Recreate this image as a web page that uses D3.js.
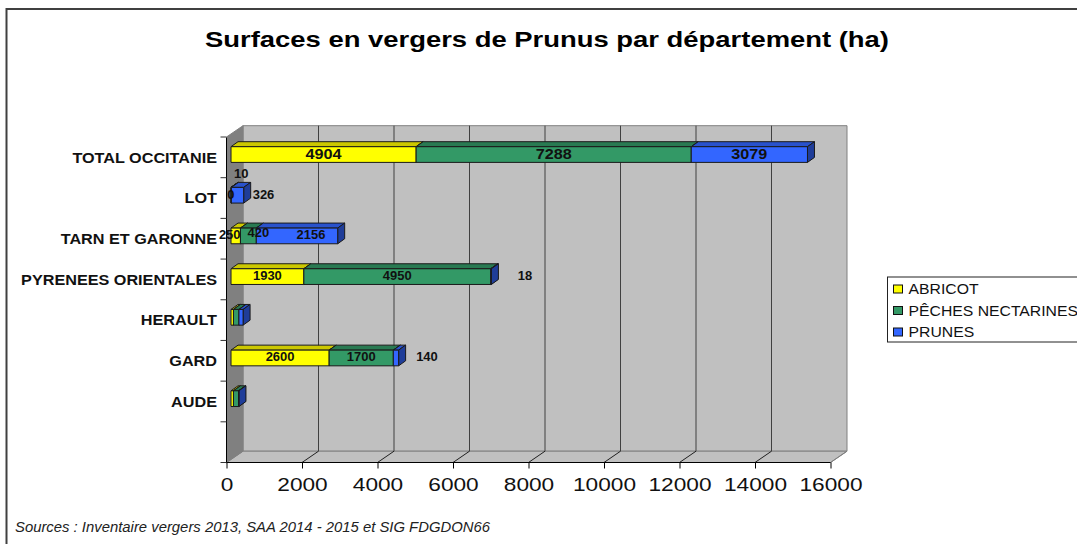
<!DOCTYPE html>
<html>
<head>
<meta charset="utf-8">
<script src="https://cdn.jsdelivr.net/npm/d3@7"></script>
<style>
  html, body { margin: 0; padding: 0; background: #fff; }
  svg { display: block; font-family: "Liberation Sans", Arial, sans-serif; }
</style>
</head>
<body>
<div id="chart"></div>
<script>
// Data
const categories = ["TOTAL OCCITANIE", "LOT", "TARN ET GARONNE", "PYRENEES ORIENTALES", "HERAULT", "GARD", "AUDE", " "];
const abricot = [4904, 0, 250, 1930, 65, 2600, 65];
const peches = [7288, 10, 420, 4950, 145, 1700, 135];
const prunes = [3079, 326, 2156, 18, 110, 140, 10];
const seriesNames = ["ABRICOT", "PÊCHES NECTARINES", "PRUNES"];
const xTicks = [0, 2000, 4000, 6000, 8000, 10000, 12000, 14000, 16000];
const title = "Surfaces en vergers de Prunus par département (ha)";
const source = "Sources : Inventaire vergers 2013, SAA 2014 - 2015 et SIG FDGDON66";

// Bars with no printed value
const noLabel = ["HERAULT", "AUDE"];

// Colours per series
const colors = {
  ABRICOT: { front: "#ffff00", top: "#ccc800", side: "#999600" },
  "PÊCHES NECTARINES": { front: "#339966", top: "#297a52", side: "#1f5c3d" },
  PRUNES: { front: "#3366ff", top: "#2952cc", side: "#1f3d99" },
};

// Labels moved away from their segment, as in the original
const nudges = {
  "LOT|PÊCHES NECTARINES": [10, -21],
  "LOT|PRUNES": [26, 0],
  "TARN ET GARONNE|ABRICOT": [-6, 0],
  "TARN ET GARONNE|PÊCHES NECTARINES": [10, -2],
  "TARN ET GARONNE|PRUNES": [14, 0],
  "PYRENEES ORIENTALES|PRUNES": [34, 0],
  "GARD|PRUNES": [31, 0],
};

// Dimensions
const dimensions = {
  width: 1077,
  height: 544,
  plot: { left: 226.5, right: 830.5, top: 137, bottom: 462.5 },
  wall: { dx: 16.5, dy: -11.3 },
  bar: { inset: 4.5, offset: 9.7, height: 15.7, dx: 7, dy: -5 },
};
const { plot, wall, bar } = dimensions;

// The original text is wider than Liberation Sans at the same height
function stretch(selection, factor) {
  selection.each(function () {
    const length = this.getComputedTextLength();
    d3.select(this)
      .attr("textLength", length * factor)
      .attr("lengthAdjust", "spacingAndGlyphs");
  });
}

const svg = d3
  .select("#chart")
  .append("svg")
  .attr("width", dimensions.width)
  .attr("height", dimensions.height);

// Frame, only top and left are visible
svg.append("path")
  .attr("d", "M6.5,544V9H1077")
  .attr("fill", "none")
  .attr("stroke", "#404040")
  .attr("stroke-width", 2);

svg.append("text")
  .attr("x", 547)
  .attr("y", 47)
  .attr("text-anchor", "middle")
  .attr("font-size", 22)
  .attr("font-weight", "bold")
  .attr("fill", "#000")
  .attr("textLength", 684)
  .attr("lengthAdjust", "spacingAndGlyphs")
  .text(title);

// Scales
const xScale = d3.scaleLinear().domain([0, 16000]).range([plot.left, plot.right]);
const yScale = d3.scaleBand().domain(categories).range([plot.top, plot.bottom]);

// Walls and floor
const poly = (pts) => pts.map((p) => p.join(",")).join(" ");
const backLeft = plot.left + wall.dx;
const backRight = plot.right + wall.dx;
const backTop = plot.top + wall.dy;
const backBottom = plot.bottom + wall.dy;

svg.append("polygon")
  .attr("points", poly([[backLeft, backTop], [backRight, backTop], [backRight, backBottom], [backLeft, backBottom]]))
  .attr("fill", "#c0c0c0")
  .attr("stroke", "#808080");
svg.append("polygon")
  .attr("points", poly([[plot.left, plot.bottom], [backLeft, backBottom], [backRight, backBottom], [plot.right, plot.bottom]]))
  .attr("fill", "#c0c0c0")
  .attr("stroke", "#808080");
svg.append("polygon")
  .attr("points", poly([[plot.left, plot.top], [backLeft, backTop], [backLeft, backBottom], [plot.left, plot.bottom]]))
  .attr("fill", "#808080")
  .attr("stroke", "#808080");

// Gridlines on the back wall and floor
const gridTicks = xTicks.slice(1, -1);
svg.append("g")
  .selectAll("line")
  .data(gridTicks)
  .join("line")
  .attr("x1", (d) => xScale(d) + wall.dx)
  .attr("x2", (d) => xScale(d) + wall.dx)
  .attr("y1", backTop)
  .attr("y2", backBottom)
  .attr("stroke", "#404040");
svg.append("g")
  .selectAll("line")
  .data(gridTicks)
  .join("line")
  .attr("x1", (d) => xScale(d))
  .attr("x2", (d) => xScale(d) + wall.dx)
  .attr("y1", plot.bottom)
  .attr("y2", backBottom)
  .attr("stroke", "#202020");
svg.append("line")
  .attr("x1", plot.right)
  .attr("x2", backRight)
  .attr("y1", plot.bottom)
  .attr("y2", backBottom)
  .attr("stroke", "#808080");

// Axes
const xAxis = d3.axisBottom(xScale).tickValues(xTicks).tickSize(6).tickPadding(9).tickFormat((d) => d);
const xAxisGroup = svg.append("g")
  .attr("transform", `translate(0, ${plot.bottom})`)
  .call(xAxis);
xAxisGroup.select(".domain").attr("stroke", "#000").attr("d", `M${plot.left},0H${plot.right}`);
xAxisGroup.selectAll("line").attr("stroke", "#000");
xAxisGroup.selectAll("text")
  .attr("font-size", 19)
  .attr("font-family", "Liberation Sans")
  .attr("fill", "#111")
  .attr("textLength", (d) => String(d).length * 12.6)
  .attr("lengthAdjust", "spacingAndGlyphs");

const yAxis = d3.axisLeft(yScale).tickSize(0).tickPadding(9.5);
const yAxisGroup = svg.append("g")
  .attr("transform", `translate(${plot.left}, 0.7)`)
  .call(yAxis);
yAxisGroup.select(".domain").attr("stroke", "#000").attr("d", `M0,${plot.top}V${plot.bottom}`);
yAxisGroup.selectAll("text")
  .attr("font-size", 14)
  .attr("font-weight", "bold")
  .attr("font-family", "Liberation Sans")
  .attr("fill", "#111")
  .call(stretch, 1.157);

// Category ticks sit between the bands
const yEdges = categories.map((d) => yScale(d)).concat(plot.bottom);
svg.append("g")
  .selectAll("line")
  .data(yEdges)
  .join("line")
  .attr("x1", plot.left - 6)
  .attr("x2", plot.left)
  .attr("y1", (d) => d)
  .attr("y2", (d) => d)
  .attr("stroke", "#333");

// Stacked bars
const rows = categories.slice(0, -1).map((category, i) => ({
  category,
  ABRICOT: abricot[i],
  "PÊCHES NECTARINES": peches[i],
  PRUNES: prunes[i],
}));
const stacked = d3.stack().keys(seriesNames)(rows);

const segments = [];
rows.forEach((row, i) => {
  stacked.forEach((layer) => {
    segments.push({
      category: row.category,
      key: layer.key,
      value: row[layer.key],
      x0: xScale(layer[i][0]) + bar.inset,
      x1: xScale(layer[i][1]) + bar.inset,
      y0: yScale(row.category) + bar.offset,
      y1: yScale(row.category) + bar.offset + bar.height,
    });
  });
});

const segmentGroup = svg.append("g")
  .selectAll("g")
  .data(segments)
  .join("g")
  .attr("stroke", "#1a1a1a")
  .attr("stroke-linejoin", "round");

segmentGroup.append("polygon")
  .attr("fill", (d) => colors[d.key].top)
  .attr("points", (d) => poly([[d.x0, d.y0], [d.x0 + bar.dx, d.y0 + bar.dy], [d.x1 + bar.dx, d.y0 + bar.dy], [d.x1, d.y0]]));
segmentGroup.append("polygon")
  .attr("fill", (d) => colors[d.key].side)
  .attr("points", (d) => poly([[d.x1, d.y0], [d.x1 + bar.dx, d.y0 + bar.dy], [d.x1 + bar.dx, d.y1 + bar.dy], [d.x1, d.y1]]));
segmentGroup.append("rect")
  .attr("x", (d) => d.x0)
  .attr("y", (d) => d.y0)
  .attr("width", (d) => d.x1 - d.x0)
  .attr("height", (d) => d.y1 - d.y0)
  .attr("fill", (d) => colors[d.key].front);

// Value labels
const nudge = (d) => nudges[`${d.category}|${d.key}`] || [0, 0];
svg.append("g")
  .selectAll("text")
  .data(segments.filter((d) => !noLabel.includes(d.category)))
  .join("text")
  .attr("x", (d) => (d.x0 + d.x1) / 2 + nudge(d)[0])
  .attr("y", (d) => (d.y0 + d.y1) / 2 - 1 + nudge(d)[1])
  .attr("dy", "0.36em")
  .attr("text-anchor", "middle")
  .attr("font-weight", "bold")
  .attr("font-size", (d) => (d.category === "TOTAL OCCITANIE" ? 15 : 12))
  .attr("fill", "#111")
  .text((d) => d.value)
  .call(stretch, 1.08);

// Legend
const legend = svg.append("g");
legend.append("rect")
  .attr("x", 887.5)
  .attr("y", 277)
  .attr("width", 200)
  .attr("height", 65)
  .attr("fill", "#fff")
  .attr("stroke", "#222");
const legendY = d3.scalePoint().domain(seriesNames).range([289, 332]);
legend.selectAll("rect.swatch")
  .data(seriesNames)
  .join("rect")
  .attr("class", "swatch")
  .attr("x", 893.5)
  .attr("y", (d) => legendY(d) - 4)
  .attr("width", 9)
  .attr("height", 8)
  .attr("fill", (d) => colors[d].front)
  .attr("stroke", "#111");
legend.selectAll("text")
  .data(seriesNames)
  .join("text")
  .attr("x", 908.5)
  .attr("y", (d) => legendY(d))
  .attr("dy", "0.36em")
  .attr("font-size", 15)
  .attr("fill", "#111")
  .text((d) => d)
  .call(stretch, 1.05);

svg.append("text")
  .attr("x", 15)
  .attr("y", 532)
  .attr("font-size", 14.5)
  .attr("font-style", "italic")
  .attr("fill", "#222")
  .attr("textLength", 475)
  .attr("lengthAdjust", "spacingAndGlyphs")
  .text(source);
</script>
</body>
</html>
